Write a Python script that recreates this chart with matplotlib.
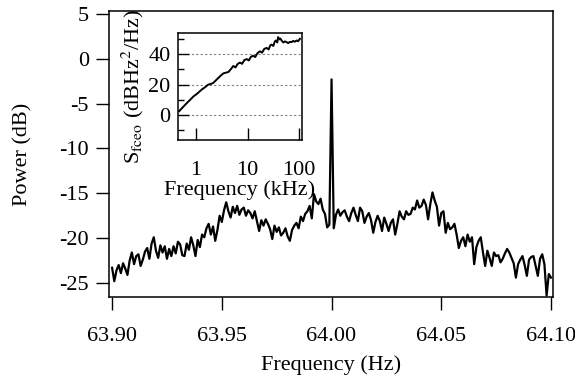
import numpy as np
import matplotlib.pyplot as plt
from matplotlib.ticker import NullLocator

plt.rcParams['font.family'] = 'Liberation Serif'
plt.rcParams['mathtext.fontset'] = 'stix'
plt.rcParams['font.size'] = 16
plt.rcParams['axes.unicode_minus'] = False

# main spectrum, one point every 1 mHz from 63.900 to 64.100 Hz
freq_hz = np.round(np.arange(63.900, 64.1005, 0.001), 3)
power_db = [
    -23.3, -24.8, -23.6, -23.0, -23.9, -22.8, -23.4, -24.1, -22.5, -21.6,
    -22.9, -22.0, -21.8, -23.1, -22.4, -21.5, -21.1, -22.3, -20.6, -19.9,
    -21.4, -22.2, -20.8, -21.6, -20.9, -22.3, -21.2, -22.0, -20.9, -21.7,
    -20.4, -20.7, -21.9, -22.0, -20.6, -21.3, -19.9, -20.8, -22.0, -20.2,
    -21.0, -19.6, -19.9, -18.9, -18.4, -19.6, -18.7, -20.3, -19.1, -17.5,
    -18.2, -16.9, -16.0, -17.0, -17.7, -16.5, -17.2, -16.4, -17.4, -16.8,
    -16.6, -17.5, -16.9, -17.2, -17.8, -17.0, -18.1, -19.2, -18.0, -18.6,
    -17.9, -18.4, -19.0, -20.1, -18.6, -19.3, -18.8, -19.7, -19.4, -18.9,
    -19.8, -20.3, -19.1, -18.6, -18.3, -18.9, -17.6, -18.1, -17.3, -17.0,
    -16.4, -17.8, -15.1, -15.9, -16.2, -15.6, -16.8, -17.3, -18.8, -18.5,
    -2.3,
    -18.9, -17.4, -16.8, -17.5, -17.1, -16.9, -17.6, -18.1, -17.2, -16.6,
    -17.4, -18.1, -16.6, -17.0, -18.3, -17.6, -17.2, -18.0, -19.4, -18.2,
    -17.5, -18.1, -19.2, -17.7, -18.4, -19.2, -18.3, -17.9, -19.6, -18.4,
    -17.0, -17.6, -17.9, -17.0, -17.4, -17.3, -16.6, -16.8, -15.8, -16.6,
    -16.4, -15.7, -16.3, -17.9, -16.2, -14.9, -15.8, -16.5, -18.6, -17.2,
    -17.0, -19.4, -18.3, -19.0, -18.8, -18.4, -19.6, -21.1, -20.3, -19.9,
    -20.9, -19.6, -20.4, -19.9, -22.9, -21.0, -20.3, -19.9, -21.6, -23.1,
    -21.4, -22.2, -23.1, -21.6, -22.0, -21.9, -22.7, -22.3, -21.7, -21.2,
    -21.6, -22.2, -22.8, -24.4, -22.9, -22.4, -22.0, -23.0, -24.2, -22.4,
    -22.1, -22.0, -23.1, -24.2, -22.3, -21.8, -22.9, -26.4, -24.0, -24.4,
]

xticks = [63.90, 63.95, 64.00, 64.05, 64.10]
xtick_labels = ['63.90', '63.95', '64.00', '64.05', '64.10']
yticks = [-25, -20, -15, -10, -5, 0, 5]

# inset: frequency noise spectrum
inset_khz = [0.47, 0.55, 0.66, 0.78, 0.89, 1.05, 1.29, 1.5, 1.73, 1.95, 2.16, 2.4,
             2.71, 3.0, 3.38, 3.8, 4.22, 4.7, 5.28, 5.8, 6.4, 7.1, 7.8, 8.6, 9.6,
             10.5, 11.6, 12.9, 14.0, 15.5, 17.3, 19.0, 21.0, 23.3, 25.5, 27.5, 29.0,
             31.5, 33.5, 35.3, 37.5, 39.0, 41.0, 43.0, 45.4, 49.0, 53.0, 56.7, 61.0,
             66.0, 71.0, 76.0, 82.0, 89.0, 95.0, 103.0]
inset_val = [2.5, 5.0, 7.8, 10.2, 12.2, 14.0, 16.7, 18.3, 20.0, 20.4, 21.1, 22.6,
             24.4, 25.8, 27.3, 27.8, 28.2, 30.0, 32.2, 31.2, 33.5, 34.4, 33.6, 36.0, 36.7,
             35.8, 38.2, 38.9, 38.0, 40.6, 41.8, 40.9, 43.4, 44.0, 43.0, 45.8, 46.2,
             45.3, 48.2, 48.9, 47.6, 51.1, 49.6, 50.2, 48.9, 47.6, 48.3, 47.8, 47.2,
             48.0, 47.8, 48.6, 48.1, 48.9, 48.4, 50.0]

fig = plt.figure(figsize=(5.75, 3.79), dpi=100)

ax = fig.add_axes([0.1896, 0.2164, 0.7721, 0.7546])
ax.plot(freq_hz, power_db, color='black', lw=1.6)
ax.set_xlim(63.8986, 64.1009)
ax.set_ylim(-26.56, 5.33)
ax.set_xticks(xticks, xtick_labels)
ax.set_yticks(yticks)
ax.tick_params(direction='out', length=9.5, width=1.0, pad=5)
ax.tick_params(axis='x', pad=12)
for s in ax.spines.values():
    s.set_linewidth(1.1)
ax.set_xlabel('Frequency (Hz)', labelpad=7)
ax.set_ylabel('Power (dB)', labelpad=19)

# inset
ax2 = fig.add_axes([0.309, 0.6306, 0.2162, 0.2823])
ax2.plot(inset_khz, inset_val, color='black', lw=1.4)
ax2.set_xscale('log')
ax2.set_xlim(0.44, 113)
ax2.set_ylim(-16.4, 53.8)
ax2.set_xticks([1, 10, 100], ['1', '10', '100'])
ax2.xaxis.set_minor_locator(NullLocator())
ax2.set_yticks([0, 20, 40])
ax2.set_yticks([-10, 10, 30, 50], minor=True)
ax2.tick_params(axis='x', direction='in', length=8.5, width=1.0, pad=15)
ax2.tick_params(axis='y', which='major', direction='in', length=8, width=1.0, pad=5)
ax2.tick_params(axis='y', which='minor', direction='in', length=4.5, width=1.0)
ax2.yaxis.grid(True, which='major', linestyle=(0, (2, 2)), color='gray', lw=0.8)
for s in ax2.spines.values():
    s.set_linewidth(1.1)
ax2.set_xlabel('Frequency (kHz)', labelpad=0)
ax2.set_ylabel(r'S$_{\mathrm{fceo}}$ (dBHz$^{2}$/Hz)', labelpad=2)

fig.savefig('out.png', dpi=100)
